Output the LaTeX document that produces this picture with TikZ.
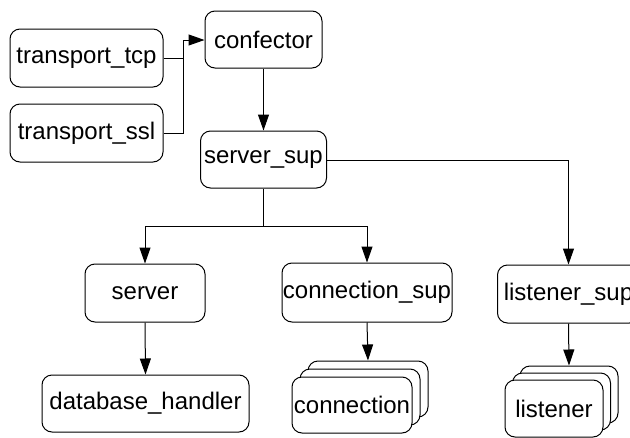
\documentclass[tikz,border=0pt]{standalone}
\usepackage{fontspec}
\setmainfont{Liberation Sans}
\usetikzlibrary{arrows.meta}
\begin{document}
\begin{tikzpicture}[x=1pt,y=-1pt,
  box/.style={draw=black, line width=1pt, rounded corners=10pt, fill=white,
    inner sep=0pt, font=\fontsize{24}{28}\selectfont, text=black},
  conn/.style={draw=black, line width=1pt, -{Triangle[length=16pt,width=11pt]}},
  wire/.style={draw=black, line width=1pt}]
\useasboundingbox (0,0) rectangle (630,437);
\clip (0,0) rectangle (630,437);

% top-level transports feeding the confector
\node[box, minimum width=153pt, minimum height=58pt] (tcp) at (86.5,58) {transport\_tcp};
\node[box, minimum width=153pt, minimum height=58pt] (ssl) at (86.5,133) {transport\_ssl};
\node[box, minimum width=117pt, minimum height=57pt] (conf) at (263.5,39.5) {confector};
\node[box, minimum width=126pt, minimum height=57pt] (ssup) at (263.5,159.5) {server\_sup};

% children of server_sup
\node[box, minimum width=120pt, minimum height=58pt] (srv) at (145,293) {server};
\node[box, minimum width=207pt, minimum height=57pt] (db) at (145.5,403.5) {database\_handler};
\node[box, minimum width=170pt, minimum height=59pt] (csup) at (367,292.5) {connection\_sup};
\node[box, minimum width=142pt, minimum height=58pt] (lsup) at (568.5,294) {listener\_sup};

% stacked connection workers
\node[box, minimum width=120pt, minimum height=56pt] (c3) at (368,389) {};
\node[box, minimum width=120pt, minimum height=56pt] (c2) at (360,397) {};
\node[box, minimum width=120pt, minimum height=56pt] (c1) at (352,405) {connection};

% stacked listener workers
\node[box, minimum width=98pt, minimum height=57pt] (l3) at (569,394.5) {};
\node[box, minimum width=98pt, minimum height=57pt] (l2) at (561.5,401.5) {};
\node[box, minimum width=98pt, minimum height=57pt] (l1) at (554,408.5) {listener};

% junction points
\coordinate (j) at (183,40);
\coordinate (split) at (263.5,226);

% connectors
\draw[wire] (tcp.east) -| (j);
\draw[wire] (ssl.east) -| (j);
\draw[conn] (j) -- (conf.west |- j);
\draw[conn] (conf.south) -- (ssup.north);
\draw[conn] (ssup.east |- 0,160) -| (lsup.north);
\draw[wire] (ssup.south) -- (split);
\draw[conn] (split) -| (srv.north);
\draw[conn] (split) -| (csup.north);
\draw[conn] (srv.south) -- (db.north);
\draw[conn] (csup.south) -- (c3.north);
\draw[conn] (lsup.south) -- (l3.north);
\end{tikzpicture}
\end{document}
